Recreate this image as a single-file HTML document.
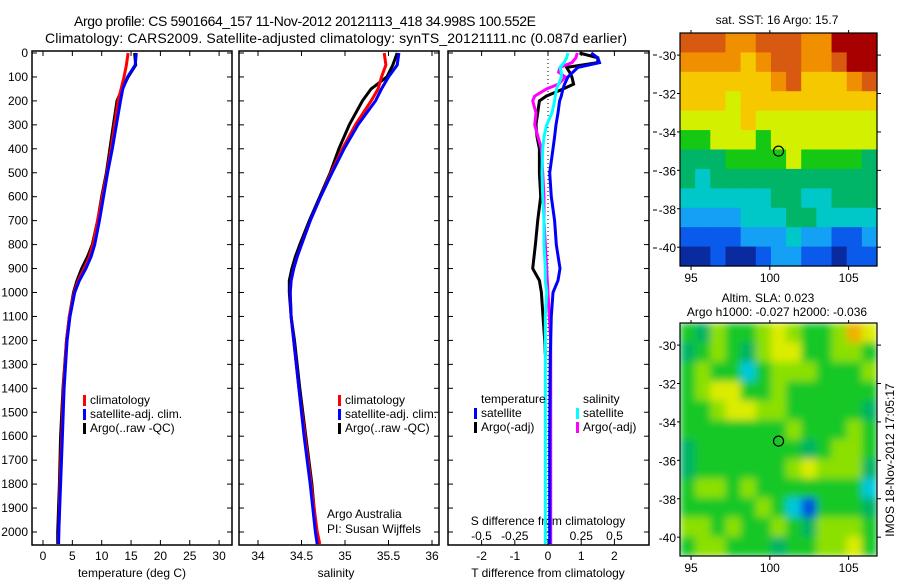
<!DOCTYPE html>
<html><head><meta charset="utf-8"><style>
html,body{margin:0;padding:0;background:#fff;}
svg{display:block;font-family:"Liberation Sans",sans-serif;}
text{font-size:12px;fill:#000;}
</style></head><body>
<svg id="fig" width="900" height="580" viewBox="0 0 900 580">
<defs>
<filter id="soft" x="0" y="0" width="1" height="1"><feGaussianBlur stdDeviation="4" edgeMode="duplicate"/></filter>
<clipPath id="slaClip"><rect x="680" y="323" width="197" height="233"/></clipPath>
</defs>
<text x="305" y="26" text-anchor="middle" style="font-size:14px" textLength="462">Argo profile: CS 5901664_157 11-Nov-2012 20121113_418 34.998S 100.552E</text>
<text x="336" y="43" text-anchor="middle" style="font-size:14px" textLength="582">Climatology: CARS2009. Satellite-adjusted climatology: synTS_20121111.nc (0.087d earlier)</text>
<g id="g"></g>
</svg>
<script>
// ---- data ----
const depthLevels=[0,50,100,150,200,300,400,500,600,700,800,850,900,950,1000,1100,1200,1400,1600,1800,2000,2050];
const tempClim=[14.5,14.2,13.8,13.3,12.8,12.2,11.6,10.9,10.1,9.3,8.5,7.9,7.0,6.0,5.3,4.5,4.0,3.5,3.2,2.9,2.7,2.6];
const tempSat=[15.9,15.7,14.4,13.6,13.2,12.5,11.8,11.0,10.3,9.6,8.8,8.2,7.3,6.2,5.4,4.6,4.1,3.6,3.3,3.0,2.7,2.65];
const tempArgo=[15.6,15.8,14.5,13.5,12.6,12.0,11.4,10.8,10.0,9.3,8.4,7.6,6.6,5.8,5.2,4.5,4.0,3.4,3.0,2.8,2.5,2.5];
const salClim=[35.45,35.47,35.42,35.38,35.3,35.12,34.97,34.84,34.72,34.6,34.5,34.45,34.41,34.38,34.37,34.38,34.41,34.47,34.54,34.61,34.68,34.71];
const salSat=[35.62,35.6,35.5,35.42,35.35,35.15,34.99,34.85,34.72,34.6,34.5,34.45,34.41,34.38,34.37,34.38,34.41,34.47,34.53,34.6,34.66,34.68];
const salArgo=[35.6,35.55,35.48,35.3,35.2,35.05,34.93,34.83,34.71,34.59,34.48,34.43,34.39,34.36,34.36,34.38,34.42,34.48,34.55,34.62,34.67,34.68];
const diffDepths=[0,20,40,60,80,100,130,150,180,200,250,300,350,400,500,600,700,800,900,950,1000,1100,1200,1260,1400,1600,1800,2000,2050];
const tDiffSat=[1.3,1.5,1.55,0.9,0.75,0.6,0.5,0.45,0.4,0.35,0.3,0.24,0.2,0.15,0.05,0.1,0.2,0.25,0.36,0.3,0.15,0.1,0.08,0.07,0.06,0.05,0.05,0.05,0.05];
const tDiffArgo=[0.95,1.5,1.5,0.56,0.65,0.72,0.77,0.46,-0.05,-0.26,-0.31,-0.36,-0.33,-0.26,-0.26,-0.22,-0.31,-0.38,-0.46,-0.26,-0.2,-0.15,-0.1,-0.08,null,null,null,null,null];
const sDiffSat=[0.15,0.14,0.12,0.09,0.1,0.1,0.08,0.065,0.055,0.05,0.03,-0.01,-0.03,-0.04,-0.045,-0.04,-0.03,-0.03,-0.02,-0.02,-0.01,-0.02,-0.02,-0.02,-0.02,-0.02,-0.02,-0.02,-0.02];
const sDiffArgo=[0.22,0.21,0.18,0.09,0.08,0.13,0.08,-0.01,-0.1,-0.115,-0.09,-0.1,-0.075,-0.05,-0.04,-0.03,-0.03,-0.02,-0.01,-0.005,0,0.01,0.02,0.02,0.02,0.02,0.02,0.02,0.02];
const depthTicks=[0,100,200,300,400,500,600,700,800,900,1000,1100,1200,1300,1400,1500,1600,1700,1800,1900,2000];
const tempTicks=[0,5,10,15,20,25,30];
const salTicks=[34,34.5,35,35.5,36];
const tdTicks=[-2,-1,0,1,2];
const sdTicks=[-0.5,-0.25,0,0.25,0.5];
const sdTickLabels=['-0.5','-0.25','0','0.25','0.5'];
const latTicks=[-30,-32,-34,-36,-38,-40];
const lonTicks=[95,100,105];
const argoLon=100.552, argoLat=-34.998;
const sstGrid=[
[9,9,9,8,8,9,9,9,8,8,10,10,10],
[8,8,8,8,7,8,9,9,8,8,9,10,10],
[7,7,7,7,7,7,8,9,7,7,7,8,9],
[7,7,7,6,7,7,7,7,7,7,7,7,7],
[6,6,6,6,7,6,6,6,6,6,6,6,6],
[5,5,6,6,6,5,6,6,6,6,6,6,6],
[4,4,4,5,5,5,5,6,5,5,5,5,4],
[4,3,4,4,4,4,4,4,4,4,4,4,4],
[3,3,3,3,3,3,4,4,3,3,4,4,4],
[2,2,2,2,3,3,3,4,4,3,3,3,3],
[1,1,1,1,2,2,2,3,2,2,1,1,2],
[0,0,1,0,0,1,2,2,1,1,0,1,1]];
const slaGrid=[
[3,2,4,3,3,4,5,4,3,3,4,6,5],
[2,3,4,3,2,4,5,5,3,3,4,4,3],
[3,4,3,3,1,3,4,4,4,3,3,3,4],
[3,4,5,5,3,3,4,3,3,3,3,3,3],
[3,3,4,5,5,4,4,3,3,3,3,3,2],
[3,3,3,3,3,3,3,4,3,3,3,4,3],
[2,3,3,3,3,3,3,3,2,3,4,4,3],
[2,3,3,3,3,3,3,4,5,4,4,4,2],
[3,4,4,3,4,3,3,3,3,3,3,3,1],
[3,3,3,3,3,4,3,1,0,3,3,3,2],
[4,4,3,4,3,3,4,3,2,4,4,4,3],
[3,4,4,3,3,3,2,3,3,4,4,5,3]];
const sstPalette=['#0a2aa0','#0a5aeb','#14a0f5','#00c8c8','#00b468','#14c814','#d2f000','#f5c800','#f09000','#d85a10','#a80000'];
const slaPalette=['#0050e0','#00c8dc','#00b464','#14c828','#8ce000','#dcec00','#f0b000'];

// ---- helpers ----
const NS='http://www.w3.org/2000/svg';
const G=document.getElementById('g');
function mk(tag,attrs,parent){const e=document.createElementNS(NS,tag);for(const k in attrs)e.setAttribute(k,attrs[k]);(parent||G).appendChild(e);return e;}
const Y0=53,YK=0.2395,TOP=51,BOT=545;
const yD=d=>Y0+YK*d;
const xT=t=>43+5.87*t;
const xS=s=>258+87*(s-34);
const xTD=v=>548+33.2*v;
const xSD=v=>548+133*v;

function frame(x0,x1,name){
  const r=mk('rect',{x:x0,y:TOP,width:x1-x0,height:BOT-TOP,fill:'none',stroke:'#000','stroke-width':1.5});
  
  
}
function line(x1,y1,x2,y2,w){return mk('line',{x1,y1,x2,y2,stroke:'#000','stroke-width':w||1});}
function txt(x,y,s,anchor,extra){const t=mk('text',Object.assign({x,y,'text-anchor':anchor||'start'},extra||{}));t.textContent=s;return t;}
function series(depths,vals,xf,color,name,w){
  let d='';let pen=false;
  depths.forEach((dp,i)=>{const v=vals[i];if(v===null||v===undefined){pen=false;return;}d+=(pen?'L':'M')+xf(v).toFixed(1)+' '+yD(dp).toFixed(1)+' ';pen=true;});
  const p=mk('path',{d,fill:'none',stroke:color,'stroke-width':w||3,'stroke-linejoin':'miter'});
  
  
}
function legend(x,y,color,label,name){
  const r=mk('rect',{x:x,y:y-9,width:3,height:11,fill:color});
  
  
  const t=txt(x+7,y,label);
  
  
}

// ---- panel 1: temperature ----
frame(32,232,'temperature-panel');
depthTicks.forEach(d=>{line(32,yD(d),37,yD(d));line(227,yD(d),232,yD(d));
  const t=txt(28,yD(d)+4,String(d),'end');});
tempTicks.forEach(v=>{line(xT(v),BOT,xT(v),BOT-5);line(xT(v),TOP,xT(v),TOP+5);
  const t=txt(xT(v),560,String(v),'middle');});
let a=txt(132,577,'temperature (deg C)','middle');
series(depthLevels,tempArgo,xT,'#000','temp-argo-line');
series(depthLevels,tempClim,xT,'#f00','temp-climatology-line');
series(depthLevels,tempSat,xT,'#00f','temp-satellite-line');
legend(83,404,'#f00','climatology','legend-climatology');
legend(83,418,'#00f','satellite-adj. clim.','legend-satellite');
legend(83,432,'#000','Argo(..raw -QC)','legend-argo');

// ---- panel 2: salinity ----
frame(239,439,'salinity-panel');
depthTicks.forEach(d=>{line(239,yD(d),244,yD(d));line(434,yD(d),439,yD(d));});
salTicks.forEach(v=>{line(xS(v),BOT,xS(v),BOT-5);line(xS(v),TOP,xS(v),TOP+5);
  const t=txt(xS(v),560,String(v),'middle');});
a=txt(336,577,'salinity','middle');
series(depthLevels,salArgo,xS,'#000','sal-argo-line');
series(depthLevels,salClim,xS,'#f00','sal-climatology-line');
series(depthLevels,salSat,xS,'#00f','sal-satellite-line');
legend(338,404,'#f00','climatology','legend-sal-climatology');
legend(338,418,'#00f','satellite-adj. clim.','legend-sal-satellite');
legend(338,432,'#000','Argo(..raw -QC)','legend-sal-argo');
a=txt(327,518,'Argo Australia');
a=txt(327,533,'PI: Susan Wijffels');

// ---- panel 3: differences ----
frame(448,649,'difference-panel');
depthTicks.forEach(d=>{line(448,yD(d),453,yD(d));line(644,yD(d),649,yD(d));});
[55,93,132,171,210,248].forEach(y=>line(653,y,657,y));
mk('line',{x1:548,y1:TOP,x2:548,y2:BOT,stroke:'#000','stroke-width':1,'stroke-dasharray':'1,3'});
tdTicks.forEach(v=>{line(xTD(v),BOT,xTD(v),BOT-5);line(xTD(v),TOP,xTD(v),TOP+5);
  const t=txt(xTD(v),560,String(v),'middle');});
sdTicks.forEach((v,i)=>{const t=txt(xSD(v),540,sdTickLabels[i],'middle');});
a=txt(548,525,'S difference from climatology','middle');
a=txt(548,577,'T difference from climatology','middle');
series(diffDepths,tDiffArgo,xTD,'#000','tdiff-argo-line');
series(diffDepths,sDiffArgo,xSD,'#f0f','sdiff-argo-line');
series(diffDepths,tDiffSat,xTD,'#00f','tdiff-satellite-line');
series(diffDepths,sDiffSat,xSD,'#0ff','sdiff-satellite-line');
a=txt(481,403,'temperature');
a=txt(583,403,'salinity');
legend(474,417,'#00f','satellite','legend-tdiff-satellite');
legend(474,431,'#000','Argo(-adj)','legend-tdiff-argo');
legend(576,417,'#0ff','satellite','legend-sdiff-satellite');
legend(576,431,'#f0f','Argo(-adj)','legend-sdiff-argo');

// ---- maps ----
const LON0=94.3,LON1=106.8,LAT0=-28.85,LAT1=-40.98;
function drawMap(grid,palette,top,name,soft){
  const L=680,R=877,B=top+233;
  const xL=lon=>L+(lon-LON0)*(R-L)/(LON1-LON0);
  const yL=lat=>top+(LAT0-lat)*(B-top)/(LAT0-LAT1);
  const rows=grid.length,cols=grid[0].length;
  const cw=(R-L)/cols,ch=(B-top)/rows;
  let holder=G;
  if(soft){
    const outer=mk('g',{'clip-path':'url(#slaClip)'});
    
    
    holder=mk('g',{filter:'url(#soft)'},outer);
  }
  grid.forEach((row,i)=>row.forEach((v,j)=>{
    const c=mk('rect',{x:(L+j*cw).toFixed(2),y:(top+i*ch).toFixed(2),width:(cw+0.6).toFixed(2),height:(ch+0.6).toFixed(2),fill:palette[v]},holder);
    
    
  }));
  const f=mk('rect',{x:L,y:top,width:R-L,height:B-top,fill:'none',stroke:'#000','stroke-width':1.2});
  
  
  latTicks.forEach(la=>{line(L,yL(la),L-3,yL(la));line(R,yL(la),R+4,yL(la));
    const t=txt(676,yL(la)+5,String(la),'end');});
  lonTicks.forEach(lo=>{line(xL(lo),B,xL(lo),B+4);line(xL(lo),top,xL(lo),top-3);
    const t=txt(xL(lo),B+16,String(lo),'middle');});
  const m=mk('circle',{cx:xL(argoLon),cy:yL(argoLat),r:5,fill:'none',stroke:'#000','stroke-width':1.2});
  
  
}
drawMap(sstGrid,sstPalette,33,'sst-map',false);
drawMap(slaGrid,slaPalette,323,'sla-map',true);
a=txt(777,24,'sat. SST: 16 Argo: 15.7','middle');
a=txt(768,302,'Altim. SLA: 0.023','middle');
a=txt(777,316,'Argo h1000: -0.027 h2000: -0.036','middle');
a=txt(0,0,'IMOS 18-Nov-2012 17:05:17','middle',{transform:'translate(894,460) rotate(-90)'});
</script>
</body></html>
